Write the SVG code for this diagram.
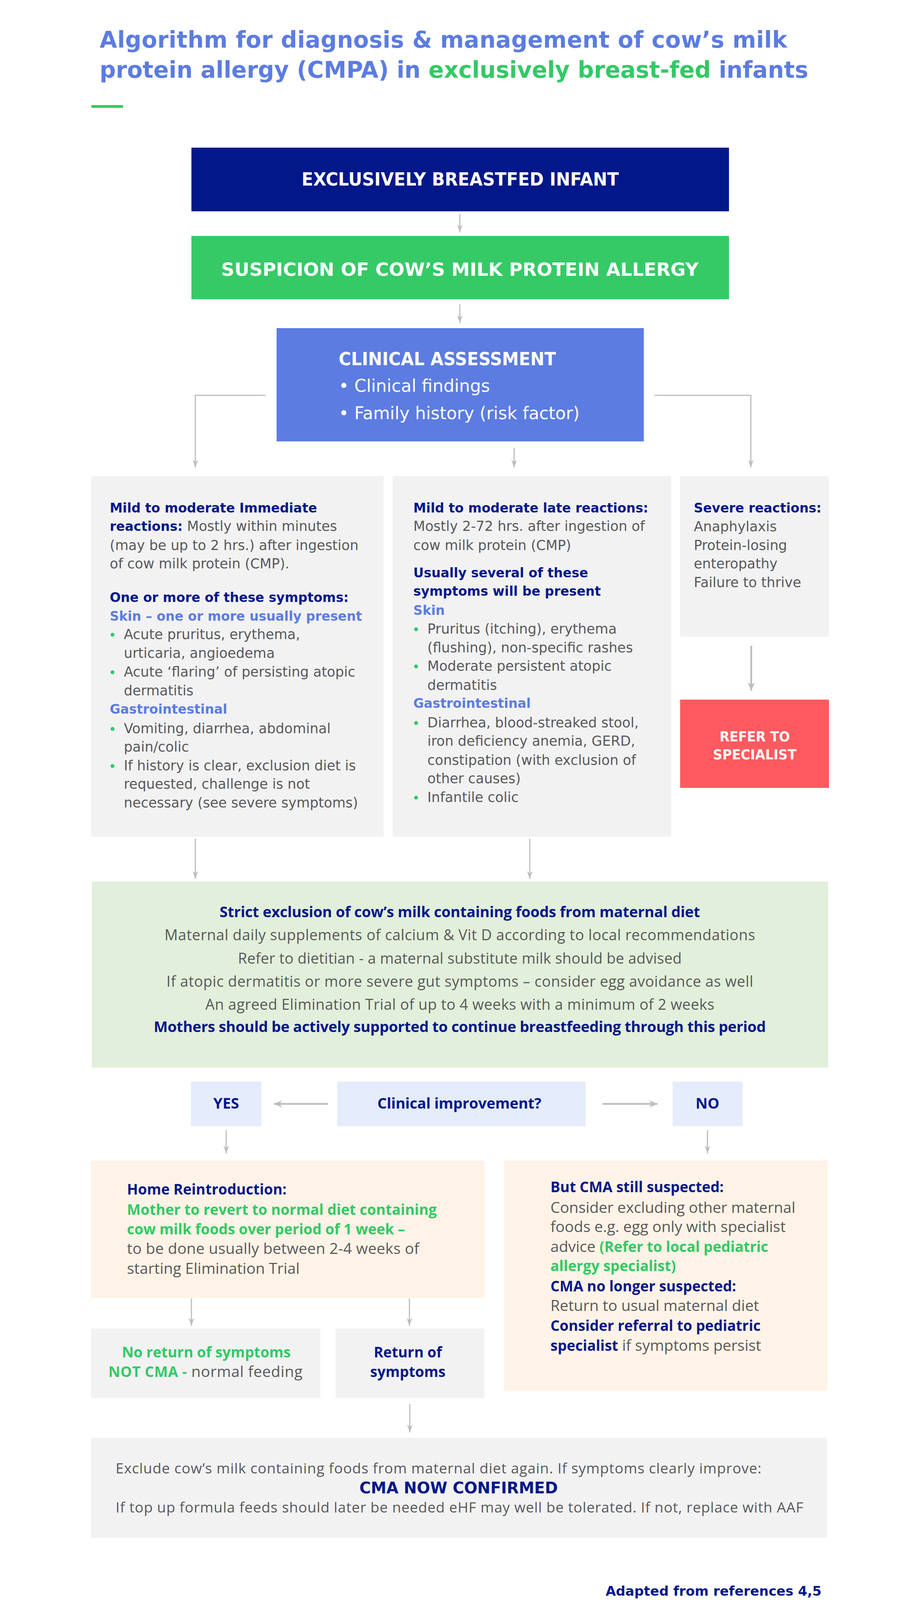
<svg xmlns="http://www.w3.org/2000/svg" width="2355" height="4400" viewBox="0 0 2355 4400">
<style>
.m{font-family:"DejaVu Sans","Liberation Sans",sans-serif}
.h{font-family:"Open Sans","Liberation Sans",sans-serif}
.b{font-weight:bold}
.navy{fill:#02188A}
.blue{fill:#5C7CE1}
.green{fill:#33C965}
.gray{fill:#58595B}
.white{fill:#FFFFFF}
.col{font-size:35px}
.colb{font-size:33px;font-weight:bold}
.dot{fill:#33C965}
.conn{stroke:#BDBDBD;stroke-width:3;fill:none}
.conn2{stroke:#BDBDBD;stroke-width:4.5;fill:none}
.gbox{fill:#F2F2F2}
.obox{fill:#FEF3E6}
.lbox{fill:#E5ECFB}
.hb{font-size:37px;font-weight:bold}
.hr{font-size:39px}
</style>
<defs>
<marker id="ah" viewBox="-20 -10 22 20" refX="0" refY="0" markerWidth="22" markerHeight="20" markerUnits="userSpaceOnUse" orient="auto"><path d="M-20,-7 L0,0 L-20,7 L-14,0 Z" fill="#BDBDBD"/></marker>
<marker id="ah2" viewBox="-22 -11 24 22" refX="0" refY="0" markerWidth="24" markerHeight="22" markerUnits="userSpaceOnUse" orient="auto"><path d="M-21,-9 L0,0 L-21,9 L-15,0 Z" fill="#BDBDBD"/></marker>
</defs>
<rect width="2355" height="4400" fill="#FFFFFF"/>

<g id="title">
<text class="m b blue" x="255" y="122" font-size="58" textLength="1760">Algorithm for diagnosis &amp; management of cow’s milk</text>
<text class="m b blue" x="255" y="199" font-size="58" textLength="1814">protein allergy (CMPA) in <tspan class="green">exclusively breast-fed</tspan> infants</text>
<rect x="234" y="269" width="81" height="7" fill="#33C965"/>
</g>

<g id="connectors">
<line class="conn" x1="1177" y1="548" x2="1177" y2="595" marker-end="url(#ah)"/>
<line class="conn" x1="1177" y1="779" x2="1177" y2="827" marker-end="url(#ah)"/>
<polyline class="conn" points="680,1012 500,1012 500,1197" marker-end="url(#ah)"/>
<polyline class="conn" points="1675,1012 1922,1012 1922,1197" marker-end="url(#ah)"/>
<line class="conn" x1="1316" y1="1147" x2="1316" y2="1197" marker-end="url(#ah)"/>
<line class="conn2" x1="1923" y1="1653" x2="1923" y2="1768" marker-end="url(#ah2)"/>
<line class="conn" x1="500" y1="2147" x2="500" y2="2250" marker-end="url(#ah)"/>
<line class="conn" x1="1356" y1="2147" x2="1356" y2="2250" marker-end="url(#ah)"/>
<line class="conn2" x1="840" y1="2826" x2="701" y2="2826" marker-end="url(#ah2)"/>
<line class="conn2" x1="1542" y1="2826" x2="1683" y2="2826" marker-end="url(#ah2)"/>
<line class="conn" x1="579" y1="2893" x2="579" y2="2953" marker-end="url(#ah)"/>
<line class="conn" x1="1811" y1="2893" x2="1811" y2="2953" marker-end="url(#ah)"/>
<line class="conn" x1="490" y1="3324" x2="490" y2="3394" marker-end="url(#ah)"/>
<line class="conn" x1="1048" y1="3324" x2="1048" y2="3394" marker-end="url(#ah)"/>
<line class="conn" x1="1049" y1="3594" x2="1049" y2="3667" marker-end="url(#ah)"/>
</g>

<g id="n-infant">
<rect x="490" y="378" width="1376" height="163" fill="#02188A"/>
<text class="m b white" x="1178" y="475" font-size="46" text-anchor="middle" textLength="812" lengthAdjust="spacingAndGlyphs">EXCLUSIVELY BREASTFED INFANT</text>
</g>

<g id="n-suspicion">
<rect x="490" y="604" width="1376" height="162" fill="#35CA66"/>
<text class="m b white" x="1177" y="706" font-size="47" text-anchor="middle" textLength="1222">SUSPICION OF COW’S MILK PROTEIN ALLERGY</text>
</g>

<g id="n-assessment">
<rect x="708" y="840" width="940" height="290" fill="#5C7CE1"/>
<text class="m b white" x="867" y="935" font-size="46" textLength="556" lengthAdjust="spacingAndGlyphs">CLINICAL ASSESSMENT</text>
<text class="m white" x="867" y="1003" font-size="44">• Clinical findings</text>
<text class="m white" x="867" y="1073" font-size="44">• Family history (risk factor)</text>
</g>

<g id="n-immediate">
<rect class="gbox" x="233" y="1219" width="749" height="923"/>
<text class="m colb navy" x="281" y="1312">Mild to moderate Immediate</text>
<text class="m col gray" x="281" y="1359"><tspan class="colb navy">reactions:</tspan> Mostly within minutes</text>
<text class="m col gray" x="281" y="1408">(may be up to 2 hrs.) after ingestion</text>
<text class="m col gray" x="281" y="1455">of cow milk protein (CMP).</text>
<text class="m colb navy" x="281" y="1541">One or more of these symptoms:</text>
<text class="m colb blue" x="281" y="1589">Skin – one or more usually present</text>
<circle class="dot" cx="288" cy="1625" r="5"/>
<text class="m col gray" x="317" y="1636">Acute pruritus, erythema,</text>
<text class="m col gray" x="317" y="1684">urticaria, angioedema</text>
<circle class="dot" cx="288" cy="1721" r="5"/>
<text class="m col gray" x="317" y="1732">Acute ‘flaring’ of persisting atopic</text>
<text class="m col gray" x="317" y="1780">dermatitis</text>
<text class="m colb blue" x="281" y="1827">Gastrointestinal</text>
<circle class="dot" cx="288" cy="1866" r="5"/>
<text class="m col gray" x="317" y="1877">Vomiting, diarrhea, abdominal</text>
<text class="m col gray" x="317" y="1924">pain/colic</text>
<circle class="dot" cx="288" cy="1961" r="5"/>
<text class="m col gray" x="317" y="1972">If history is clear, exclusion diet is</text>
<text class="m col gray" x="317" y="2019">requested, challenge is not</text>
<text class="m col gray" x="317" y="2067">necessary (see severe symptoms)</text>
</g>

<g id="n-late">
<rect class="gbox" x="1005" y="1219" width="713" height="923"/>
<text class="m colb navy" x="1058" y="1312">Mild to moderate late reactions:</text>
<text class="m col gray" x="1058" y="1359">Mostly 2-72 hrs. after ingestion of</text>
<text class="m col gray" x="1058" y="1408">cow milk protein (CMP)</text>
<text class="m colb navy" x="1058" y="1478">Usually several of these</text>
<text class="m colb navy" x="1058" y="1525">symptoms will be present</text>
<text class="m colb blue" x="1058" y="1574">Skin</text>
<circle class="dot" cx="1065" cy="1611" r="5"/>
<text class="m col gray" x="1094" y="1622">Pruritus (itching), erythema</text>
<text class="m col gray" x="1094" y="1670">(flushing), non-specific rashes</text>
<circle class="dot" cx="1065" cy="1706" r="5"/>
<text class="m col gray" x="1094" y="1717">Moderate persistent atopic</text>
<text class="m col gray" x="1094" y="1766">dermatitis</text>
<text class="m colb blue" x="1058" y="1812">Gastrointestinal</text>
<circle class="dot" cx="1065" cy="1851" r="5"/>
<text class="m col gray" x="1094" y="1862">Diarrhea, blood-streaked stool,</text>
<text class="m col gray" x="1094" y="1909">iron deficiency anemia, GERD,</text>
<text class="m col gray" x="1094" y="1958">constipation (with exclusion of</text>
<text class="m col gray" x="1094" y="2005">other causes)</text>
<circle class="dot" cx="1065" cy="2042" r="5"/>
<text class="m col gray" x="1094" y="2053">Infantile colic</text>
</g>

<g id="n-severe">
<rect class="gbox" x="1741" y="1219" width="381" height="411"/>
<text class="m colb navy" x="1776" y="1312">Severe reactions:</text>
<text class="m col gray" x="1776" y="1360">Anaphylaxis</text>
<text class="m col gray" x="1776" y="1408">Protein-losing</text>
<text class="m col gray" x="1776" y="1455">enteropathy</text>
<text class="m col gray" x="1776" y="1503">Failure to thrive</text>
</g>

<g id="n-refer">
<rect x="1741" y="1791" width="381" height="226" fill="#FF5A5F"/>
<text class="m b white" x="1932" y="1898" font-size="36" text-anchor="middle" textLength="180" lengthAdjust="spacingAndGlyphs">REFER TO</text>
<text class="m b white" x="1932" y="1944" font-size="36" text-anchor="middle" textLength="214" lengthAdjust="spacingAndGlyphs">SPECIALIST</text>
</g>

<g id="n-exclusion">
<rect x="235" y="2257" width="1885" height="476" fill="#E2EFDA"/>
<text class="h b navy" x="1177" y="2348" font-size="38" text-anchor="middle" textLength="1230">Strict exclusion of cow’s milk containing foods from maternal diet</text>
<text class="h gray" x="1177" y="2407" font-size="38" text-anchor="middle" textLength="1512">Maternal daily supplements of calcium &amp; Vit D according to local recommendations</text>
<text class="h gray" x="1177" y="2467" font-size="38" text-anchor="middle" textLength="1136">Refer to dietitian - a maternal substitute milk should be advised</text>
<text class="h gray" x="1177" y="2526" font-size="38" text-anchor="middle" textLength="1502">If atopic dermatitis or more severe gut symptoms – consider egg avoidance as well</text>
<text class="h gray" x="1177" y="2585" font-size="38" text-anchor="middle" textLength="1303">An agreed Elimination Trial of up to 4 weeks with a minimum of 2 weeks</text>
<text class="h b navy" x="1177" y="2642" font-size="38" text-anchor="middle" textLength="1567">Mothers should be actively supported to continue breastfeeding through this period</text>
</g>

<g id="n-yes">
<rect class="lbox" x="489" y="2769" width="180" height="114"/>
<text class="h b navy" x="579" y="2838" font-size="38" text-anchor="middle">YES</text>
</g>
<g id="n-improvement">
<rect class="lbox" x="863" y="2769" width="636" height="114"/>
<text class="h b navy" x="1176" y="2838" font-size="38" text-anchor="middle" textLength="420">Clinical improvement?</text>
</g>
<g id="n-no">
<rect class="lbox" x="1722" y="2769" width="179" height="114"/>
<text class="h b navy" x="1811" y="2838" font-size="38" text-anchor="middle">NO</text>
</g>

<g id="n-reintroduction">
<rect class="obox" x="233" y="2971" width="1007" height="352"/>
<text class="h hb navy" x="325" y="3058">Home Reintroduction:</text>
<text class="h hb green" x="325" y="3110" textLength="793">Mother to revert to normal diet containing</text>
<text class="h hb green" x="325" y="3160">cow milk foods over period of 1 week –</text>
<text class="h hr gray" x="325" y="3210" textLength="748">to be done usually between 2-4 weeks of</text>
<text class="h hr gray" x="325" y="3261">starting Elimination Trial</text>
</g>

<g id="n-noreturn">
<rect class="gbox" x="233" y="3401" width="587" height="178"/>
<text class="h hb green" x="528" y="3475" text-anchor="middle">No return of symptoms</text>
<text class="h hr gray" x="526" y="3525" text-anchor="middle" textLength="497"><tspan class="hb green">NOT CMA -</tspan> normal feeding</text>
</g>

<g id="n-return">
<rect class="gbox" x="859" y="3401" width="381" height="178"/>
<text class="h hb navy" x="1044" y="3475" text-anchor="middle">Return of</text>
<text class="h hb navy" x="1044" y="3525" text-anchor="middle">symptoms</text>
</g>

<g id="n-notimproved">
<rect class="obox" x="1291" y="2971" width="827" height="590"/>
<text class="h hb navy" x="1409" y="3052">But CMA still suspected:</text>
<text class="h hr gray" x="1409" y="3105" textLength="627">Consider excluding other maternal</text>
<text class="h hr gray" x="1409" y="3154">foods e.g. egg only with specialist</text>
<text class="h hr gray" x="1409" y="3205">advice <tspan class="hb green">(Refer to local pediatric</tspan></text>
<text class="h hb green" x="1409" y="3254">allergy specialist)</text>
<text class="h hb navy" x="1409" y="3306">CMA no longer suspected:</text>
<text class="h hr gray" x="1409" y="3356">Return to usual maternal diet</text>
<text class="h hb navy" x="1409" y="3407">Consider referral to pediatric</text>
<text class="h hr gray" x="1409" y="3458"><tspan class="hb navy">specialist</tspan> if symptoms persist</text>
</g>

<g id="n-confirmed">
<rect class="gbox" x="233" y="3681" width="1884" height="256"/>
<text class="h gray" x="296" y="3772" font-size="37" textLength="1653">Exclude cow’s milk containing foods from maternal diet again. If symptoms clearly improve:</text>
<text class="m b navy" x="1174" y="3823" font-size="40" text-anchor="middle" textLength="508">CMA NOW CONFIRMED</text>
<text class="h gray" x="296" y="3872" font-size="37" textLength="1760">If top up formula feeds should later be needed eHF may well be tolerated. If not, replace with AAF</text>
</g>

<g id="footer">
<text class="m b navy" x="2103" y="4085" font-size="34" text-anchor="end">Adapted from references 4,5</text>
</g>
</svg>
